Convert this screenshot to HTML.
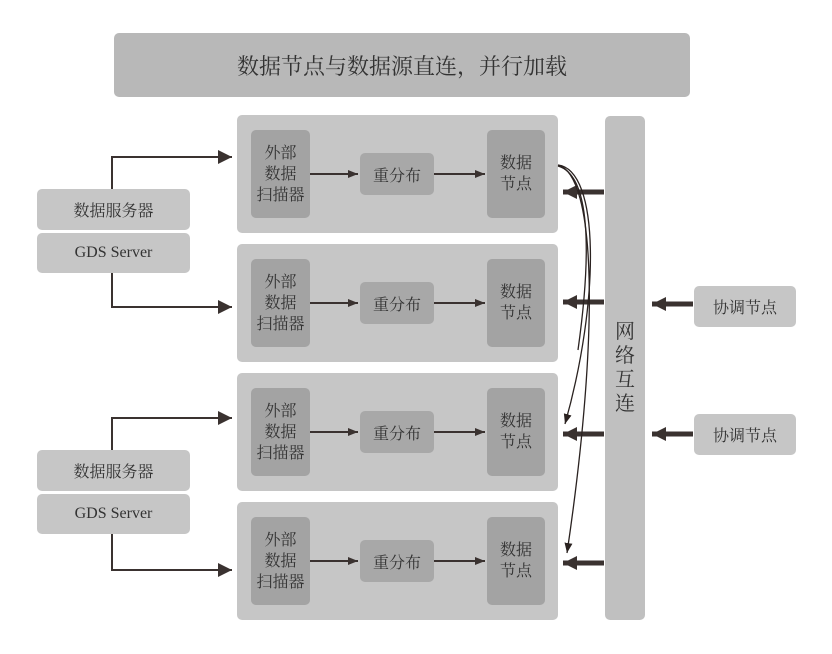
<!DOCTYPE html>
<html><head><meta charset="utf-8"><style>
html,body{margin:0;padding:0;background:#fff;}
body{width:832px;height:654px;position:relative;overflow:hidden;font-family:"Liberation Serif","Noto Serif CJK SC","Noto Sans CJK SC",serif;color:#333;}
.b{position:absolute;border-radius:5px;display:flex;align-items:center;justify-content:center;text-align:center;}
.p{background:#c6c6c6;}
.i{background:#a3a3a3;font-size:16px;line-height:21px;}
.r{background:#a8a8a8;font-size:16px;}
.s{background:#c6c6c6;font-size:16px;}
svg{position:absolute;left:0;top:0;}
</style></head><body>
<div class="b" style="left:114px;top:33px;width:576px;height:64px;background:#b8b8b8;font-size:22px;">数据节点与数据源直连，并行加载</div>

<div class="b p" style="left:237px;top:115px;width:321px;height:118px;"></div>
<div class="b p" style="left:237px;top:244px;width:321px;height:118px;"></div>
<div class="b p" style="left:237px;top:373px;width:321px;height:118px;"></div>
<div class="b p" style="left:237px;top:502px;width:321px;height:118px;"></div>

<div class="b i" style="left:251px;top:130px;width:59px;height:88px;">外部<br>数据<br>扫描器</div>
<div class="b i" style="left:251px;top:259px;width:59px;height:88px;">外部<br>数据<br>扫描器</div>
<div class="b i" style="left:251px;top:388px;width:59px;height:88px;">外部<br>数据<br>扫描器</div>
<div class="b i" style="left:251px;top:517px;width:59px;height:88px;">外部<br>数据<br>扫描器</div>

<div class="b r" style="left:360px;top:153px;width:74px;height:42px;">重分布</div>
<div class="b r" style="left:360px;top:282px;width:74px;height:42px;">重分布</div>
<div class="b r" style="left:360px;top:411px;width:74px;height:42px;">重分布</div>
<div class="b r" style="left:360px;top:540px;width:74px;height:42px;">重分布</div>

<div class="b i" style="left:487px;top:130px;width:58px;height:88px;">数据<br>节点</div>
<div class="b i" style="left:487px;top:259px;width:58px;height:88px;">数据<br>节点</div>
<div class="b i" style="left:487px;top:388px;width:58px;height:88px;">数据<br>节点</div>
<div class="b i" style="left:487px;top:517px;width:58px;height:88px;">数据<br>节点</div>

<div class="b" style="left:605px;top:116px;width:40px;height:504px;background:#c0c0c0;font-size:20px;line-height:24px;">网<br>络<br>互<br>连</div>

<div class="b s" style="left:694px;top:286px;width:102px;height:41px;">协调节点</div>
<div class="b s" style="left:694px;top:414px;width:102px;height:41px;">协调节点</div>

<div class="b s" style="left:37px;top:189px;width:153px;height:41px;">数据服务器</div>
<div class="b s" style="left:37px;top:233px;width:153px;height:40px;">GDS Server</div>
<div class="b s" style="left:37px;top:450px;width:153px;height:41px;">数据服务器</div>
<div class="b s" style="left:37px;top:494px;width:153px;height:40px;">GDS Server</div>

<svg width="832" height="654">
<defs>
<marker id="a" markerWidth="10" markerHeight="8" refX="10" refY="4" orient="auto" markerUnits="userSpaceOnUse"><path d="M0,0 L10,4 L0,8z" fill="#3a3230"/></marker>
<marker id="t" markerWidth="10" markerHeight="8" refX="10" refY="4" orient="auto" markerUnits="userSpaceOnUse"><path d="M0,0 L10,4 L0,8z" fill="#2a2220"/></marker>
<marker id="w" markerWidth="14" markerHeight="14" refX="14" refY="7" orient="auto" markerUnits="userSpaceOnUse"><path d="M0,0 L14,7 L0,14z" fill="#3a3230"/></marker>
</defs>
<g stroke="#3a3230" stroke-width="2" fill="none">
<path d="M112,189 V157 H232" marker-end="url(#w)"/>
<path d="M112,273 V307 H232" marker-end="url(#w)"/>
<path d="M112,450 V418 H232" marker-end="url(#w)"/>
<path d="M112,534 V570 H232" marker-end="url(#w)"/>
<path d="M310,174 H358" marker-end="url(#a)"/>
<path d="M310,303 H358" marker-end="url(#a)"/>
<path d="M310,432 H358" marker-end="url(#a)"/>
<path d="M310,561 H358" marker-end="url(#a)"/>
<path d="M434,174 H485" marker-end="url(#a)"/>
<path d="M434,303 H485" marker-end="url(#a)"/>
<path d="M434,432 H485" marker-end="url(#a)"/>
<path d="M434,561 H485" marker-end="url(#a)"/>
</g>
<g stroke="#3a3230" stroke-width="5" fill="none">
<path d="M604,192 H563" marker-end="url(#w)"/>
<path d="M604,302 H563" marker-end="url(#w)"/>
<path d="M604,434 H563" marker-end="url(#w)"/>
<path d="M604,563 H563" marker-end="url(#w)"/>
<path d="M693,304 H652" marker-end="url(#w)"/>
<path d="M693,434 H652" marker-end="url(#w)"/>
</g>
<g stroke="#2a2220" stroke-width="1.3" fill="none">
<path d="M558,165 C600,170 600,300 565,424" marker-end="url(#t)"/>
<path d="M558,165 C596,175 600,330 567,553" marker-end="url(#t)"/>
<path d="M558,166 C590,175 592,250 578,350"/>
</g>
</svg>
</body></html>
